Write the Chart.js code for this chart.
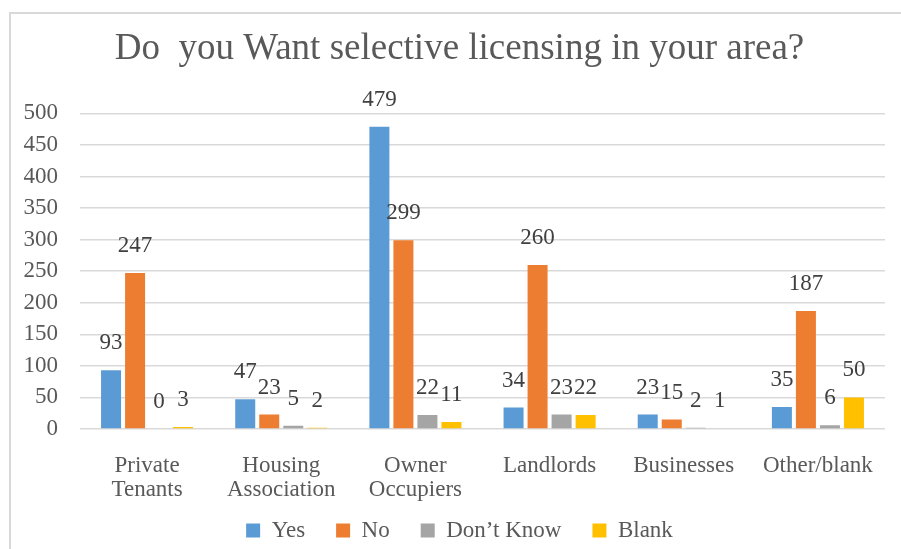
<!DOCTYPE html>
<html>
<head>
<meta charset="utf-8">
<title>Selective licensing survey</title>
<script src="https://cdn.jsdelivr.net/npm/chart.js@4.4.1/dist/chart.umd.min.js"></script>
<style>
  html, body { margin: 0; padding: 0; background: #fff; overflow: hidden; }
  body { width: 901px; height: 549px; position: relative; }
  .frame { position: absolute; left: 9px; top: 12px; width: 960px; height: 620px; border: 2px solid #d9d9d9; }
  .wrap { position: absolute; left: 9px; top: 0; width: 901px; height: 549px; }
</style>
</head>
<body>
<div class="frame"></div>
<div class="wrap"><canvas id="chart"></canvas></div>
<script>
// Survey responses by respondent group
const categories = [['Private', 'Tenants'], ['Housing', 'Association'], ['Owner', 'Occupiers'], 'Landlords', 'Businesses', 'Other/blank'];
const yesValues = [93, 47, 479, 34, 23, 35];
const noValues = [247, 23, 299, 260, 15, 187];
const dontKnowValues = [0, 5, 22, 23, 2, 6];
const blankValues = [3, 2, 11, 22, 1, 50];
const yTickValues = [0, 50, 100, 150, 200, 250, 300, 350, 400, 450, 500];

const SERIF = "'Liberation Serif', 'Times New Roman', serif";
const COLORS = {
  yes: '#5B9BD5',
  no: '#ED7D31',
  dontKnow: '#A5A5A5',
  blank: '#FFC000',
  grid: '#d9d9d9',
  text: '#595959',
  label: '#404040',
};

// value printed above each bar
const barValueLabels = {
  id: 'barValueLabels',
  afterDatasetsDraw(chart) {
    const ctx = chart.ctx;
    ctx.save();
    ctx.font = `23px ${SERIF}`;
    ctx.fillStyle = COLORS.label;
    ctx.textAlign = 'center';
    ctx.textBaseline = 'middle';
    chart.data.datasets.forEach((ds, i) => {
      chart.getDatasetMeta(i).data.forEach((bar, j) => {
        ctx.fillText(String(ds.data[j]), bar.x, bar.y - 27);
      });
    });
    ctx.restore();
  },
};

// title and legend centred on the whole canvas; category labels allowed to run
// below the x axis box so the second line is not clipped
const boxPlacement = {
  id: 'boxPlacement',
  afterLayout(chart) {
    [chart.titleBlock, chart.legend].forEach(box => {
      if (!box) return;
      box.left = 0;
      box.right = chart.width;
      box.width = chart.width;
    });
    chart.legend.top += 3;
    chart.legend.bottom += 3;
    chart.scales.x.bottom = chart.height;
  },
};

function series(label, data, color) {
  return {
    label,
    data,
    backgroundColor: color,
    borderWidth: 0,
    categoryPercentage: 0.716,
    barPercentage: 0.833,
  };
}

new Chart(document.getElementById('chart'), {
  type: 'bar',
  data: {
    labels: categories,
    datasets: [
      series('Yes', yesValues, COLORS.yes),
      series('No', noValues, COLORS.no),
      series('Don\u2019t Know', dontKnowValues, COLORS.dontKnow),
      series('Blank', blankValues, COLORS.blank),
    ],
  },
  options: {
    responsive: true,
    maintainAspectRatio: false,
    animation: false,
    layout: { padding: { left: 0, right: 25, top: 0, bottom: 0 } },
    plugins: {
      title: {
        display: true,
        text: 'Do  you Want selective licensing in your area?',
        color: COLORS.text,
        font: { family: SERIF, size: 37, weight: 'normal' },
        padding: { top: 27, bottom: 42 },
      },
      legend: {
        position: 'bottom',
        labels: {
          color: COLORS.text,
          font: { family: SERIF, size: 23 },
          boxWidth: 14,
          boxHeight: 14,
          padding: 31,
        },
      },
      tooltip: { enabled: false },
    },
    scales: {
      x: {
        grid: { display: false },
        border: { display: false },
        ticks: {
          color: COLORS.text,
          font: { family: SERIF, size: 23, lineHeight: 1.05 },
          padding: 17,
          maxRotation: 0,
          autoSkip: false,
        },
        afterFit: scale => { scale.height = 56; },
      },
      y: {
        min: 0,
        max: 500,
        afterBuildTicks: scale => { scale.ticks = yTickValues.map(v => ({ value: v })); },
        grid: { color: COLORS.grid, lineWidth: 1.5, drawTicks: false },
        border: { display: false },
        ticks: {
          color: COLORS.text,
          font: { family: SERIF, size: 23 },
          padding: 22,
        },
        afterFit: scale => { scale.width = 71; },
      },
    },
  },
  plugins: [barValueLabels, boxPlacement],
});
</script>
</body>
</html>
